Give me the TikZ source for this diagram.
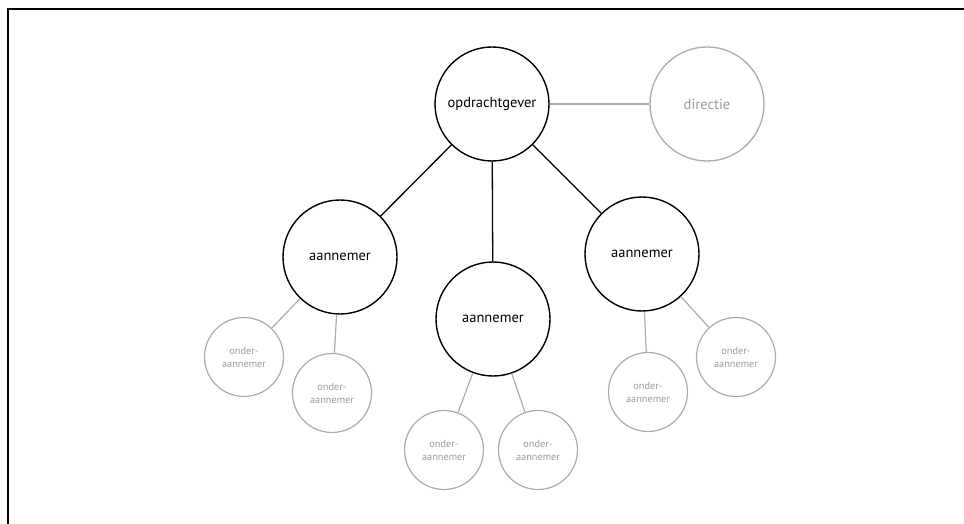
\documentclass[tikz,border=0pt]{standalone}
\usepackage{fontspec}
\setmainfont{PT Sans}
\usepackage{tikz}
\usetikzlibrary{positioning}
\definecolor{lightgrey}{HTML}{ABABAB}
\definecolor{textgrey}{HTML}{9A9A9A}
\tikzset{main/.style={circle, draw=black, line width=1.4pt, minimum size=114pt, inner sep=0pt, font=\fontsize{14.5}{16}\selectfont}}
\tikzset{side/.style={circle, draw=lightgrey, line width=1.3pt, minimum size=114pt, inner sep=0pt, text=textgrey, font=\fontsize{14.5}{16}\selectfont}}
\tikzset{sub/.style={circle, draw=lightgrey, line width=1.2pt, minimum size=79pt, inner sep=0pt, text=textgrey, align=center, font=\fontsize{10.3}{13}\selectfont}}
\tikzset{link/.style={line width=1.3pt}}
\tikzset{sublink/.style={draw=lightgrey, line width=1.2pt}}

\begin{document}
\begin{tikzpicture}[x=1pt, y=-1pt]
\useasboundingbox (0,0) rectangle (964,524);
\draw[line width=2.2pt] (8,524) -- (8,9) -- (964,9);
\draw node(og) [main] at (492,104) {opdrachtgever};
\draw node(dir) [side] at (707,104) {directie};
\draw node(a1) [main] at (340,257) {aannemer};
\draw node(a2) [main] at (493,319) {aannemer};
\draw node(a3) [main] at (642,254) {aannemer};
\draw node(o1) [sub] at (244,357) {onder-\\aannemer};
\draw node(o2) [sub] at (332,393) {onder-\\aannemer};
\draw node(o3) [sub] at (444,450) {onder-\\aannemer};
\draw node(o4) [sub] at (538,450) {onder-\\aannemer};
\draw node(o5) [sub] at (648,392) {onder-\\aannemer};
\draw node(o6) [sub] at (736,357) {onder-\\aannemer};
\draw[sublink] (og) -- (dir);
\draw[link] (og) -- (a1);
\draw[link] (og) -- (a2);
\draw[link] (og) -- (a3);
\draw[sublink] (a1) -- (o1);
\draw[sublink] (a1) -- (o2);
\draw[sublink] (a2) -- (o3);
\draw[sublink] (a2) -- (o4);
\draw[sublink] (a3) -- (o5);
\draw[sublink] (a3) -- (o6);
\end{tikzpicture}
\end{document}
